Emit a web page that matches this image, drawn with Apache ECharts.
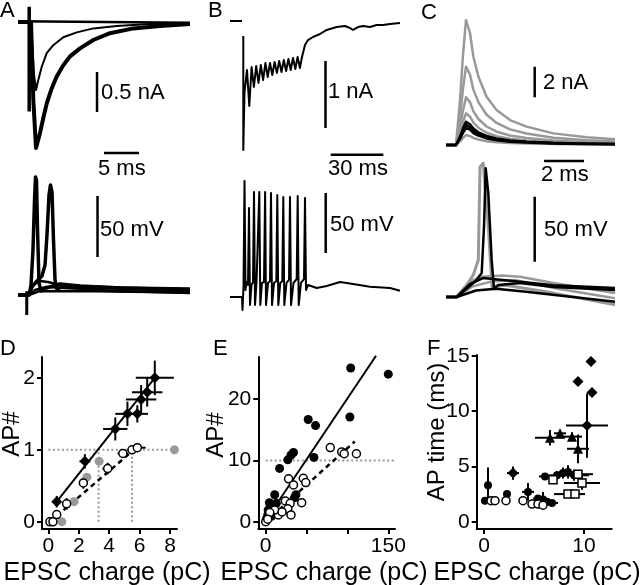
<!DOCTYPE html>
<html><head><meta charset="utf-8">
<script src="https://cdn.jsdelivr.net/npm/echarts@6/dist/echarts.min.js"></script>
<style>html,body{margin:0;padding:0;background:#fff}#c{width:640px;height:585px}</style>
</head><body><div id="c"></div>
<script>
// ---------- Panel A (time ms, current nA, voltage mV) ----------
const aCurBig = [[0,0],[1.86,0],[2.19,-0.975],[2.57,-1.575],[3.14,-1.39],[3.61,-1.2],[4.1,-1.02],[4.81,-0.83],[5.53,-0.68],[6.47,-0.54],[7.43,-0.43],[8.86,-0.33],[10.76,-0.225],[13.14,-0.14],[16.47,-0.08],[20.29,-0.05],[24.57,-0.025]];
const aCurSmall = [[0,0],[1.86,0],[2.29,-0.66],[2.57,-0.85],[2.9,-0.725],[3.39,-0.56],[4.1,-0.39],[5.04,-0.29],[6.47,-0.19],[8.39,-0.13],[10.76,-0.08],[14.1,-0.05],[18.86,-0.025],[24.57,-0.02]];
const aCurNone = [[0,0.01],[24.57,-0.01]];
const aCurArtifact = [[1.6,0.19],[1.6,-1.12]];
const aVoltSpike1 = [[0,0],[1.57,0],[1.86,8.2],[2.14,36.9],[2.36,77.9],[2.5,96.7],[2.64,94.3],[2.79,53.3],[3.0,9.8],[3.29,3.3],[4.0,5.7],[6.0,9.0],[8.86,7.4],[14.57,5.7],[24.57,4.9]];
const aVoltSpike2 = [[0,0],[1.57,0],[2.0,6.6],[2.71,11.5],[3.43,15.6],[3.86,24.6],[4.14,49.2],[4.43,82],[4.64,90.2],[4.86,84.4],[5.07,45.1],[5.29,12.3],[5.57,4.1],[6.29,7.4],[10.29,6.6],[24.57,4.1]];
const aVoltSub1 = [[0,0],[1.57,0],[2.14,8.2],[3.14,11.5],[4.29,10.7],[6.0,8.2],[11.71,5.7],[24.57,3.3]];
const aVoltSub2 = [[0,0],[1.57,0],[2.43,4.1],[4.0,6.6],[7.0,5.7],[14.0,3.3],[24.57,1.6]];
const aVoltSub3 = [[0,0],[1.57,0],[3.0,3.0],[8.0,3.3],[24.57,2.0]];
const aVoltArtifact = [[1.25,3],[1.25,-16.4]];
const aCurBarV = [[11.29,-0.625],[11.29,-1.125]];
const aCurBarH = [[12.29,-1.6375],[17.29,-1.6375]];
const aVoltBarV = [[11.36,81.1],[11.36,31.1]];

// ---------- Panel B ----------
const bCurDash = [[0,0],[6.83,0]];
const bCurTrace = [[7.57,-0.224],[7.57,-1.925],[8.26,-1.06],[9.68,-0.731],[10.99,-1.269],[12.30,-0.687],[13.61,-0.985],[14.92,-0.672],[16.23,-0.925],[17.54,-0.657],[18.85,-0.881],[20.16,-0.627],[21.47,-0.836],[22.78,-0.627],[24.09,-0.806],[25.40,-0.612],[26.71,-0.776],[28.02,-0.597],[29.33,-0.761],[30.64,-0.582],[31.95,-0.746],[33.26,-0.567],[34.57,-0.731],[35.88,-0.552],[37.19,-0.716],[38.50,-0.537],[39.81,-0.701],[41.0,-0.537],[42.71,-0.358],[44.42,-0.284],[47.27,-0.239],[51.25,-0.194],[55.07,-0.134],[60.76,-0.090],[65.49,-0.075],[68.34,-0.104],[70.05,-0.134],[72.89,-0.090],[75.74,-0.075],[79.73,-0.090],[83.54,-0.060],[87.13,-0.060],[91.12,-0.045],[96.81,-0.030]];
const bVoltTrace = [[0,0],[6.83,0],[7.12,-10.8],[7.69,8.3],[8.26,96.7],[8.83,5.8],[9.4,12.5],[10.25,10],[10.82,74.2],[11.39,-6.7],[12.24,10],[13.1,12.5],[13.67,87.5],[14.24,-6.7],[15.09,11.7],[16.06,12.5],[16.69,87.5],[17.25,-6.7],[18.22,11.7],[19.36,12.5],[20.0,87.5],[20.5,-6.7],[21.64,11.7],[22.78,13.3],[23.35,86.7],[23.92,-6.7],[25.06,11.7],[26.37,13.3],[26.94,85],[27.5,-6.7],[28.64,11.7],[29.78,13.3],[30.35,83.3],[30.92,-6.7],[32.18,11.7],[33.6,14.2],[34.17,83.3],[34.74,-6.7],[36.16,11.7],[37.98,15],[38.55,84.2],[39.12,-6.7],[40.43,11.7],[42.14,15],[42.71,82.5],[43.28,5.8],[44.42,10],[49.37,7.5],[55.07,9.2],[62.64,12.5],[70.05,10.8],[79.73,8.6],[91.12,7.5],[96.81,5.25]];
const bCurBarV = [[54.38,-0.597],[54.38,-1.597]];
const bCurBarH = [[57.35,-1.9955],[87.35,-1.9955]];
const bVoltBarV = [[54.5,86.67],[54.5,36.67]];

// ---------- Panel C ----------
const cTime = [0,0.5,0.7,0.85,1.0,1.2,1.37,1.62,2.03,2.53,3.2,4.03,5.37,7.03,8.45];
const cGray1 = [0,0,2.94,5.88,8.17,7.32,5.77,4.46,3.16,2.29,1.63,1.2,0.76,0.5,0.37];
const cGray2 = [0,0,1.84,3.69,5.12,4.59,3.62,2.8,1.98,1.44,1.02,0.75,0.48,0.31,0.23];
const cGray3 = [0,0,1.12,2.25,3.12,2.8,2.2,1.7,1.21,0.87,0.62,0.46,0.29,0.19,0.14];
const cGray4 = [0,0,0.74,1.49,2.07,1.85,1.46,1.13,0.8,0.58,0.41,0.3,0.19,0.13,0.09];
const cGray5 = [0,0,0.24,0.47,0.65,0.58,0.46,0.36,0.25,0.18,0.13,0.1,0.06,0.04,0.03];
const cBlack1 = [0,0,0.55,1.09,1.52,1.36,1.07,0.83,0.59,0.43,0.3,0.22,0.14,0.09,0.07];
const cBlack2 = [0,0,0.47,0.94,1.31,1.17,0.92,0.71,0.5,0.37,0.26,0.19,0.12,0.08,0.06];
const cBlack3 = [0,0,0.4,0.8,1.11,1.0,0.78,0.61,0.43,0.31,0.22,0.16,0.1,0.07,0.05];
const cVoltGraySpike = [[0,0],[0.535,0],[1.035,9.2],[1.365,17],[1.615,28.5],[1.7,100],[1.86,103],[2.115,54.1],[2.3,7.9],[3.0,9],[5.37,3],[8.45,-6]];
const cVoltGraySub1 = [[0,0],[0.535,0],[1.2,12],[1.8,15.5],[2.8,16.5],[3.7,15.5],[5.37,10.8],[8.45,3]];
const cVoltGraySub2 = [[0,0],[0.535,0],[1.3,8],[2.3,12],[3.5,13],[5.37,7],[8.45,-1]];
const cVoltBlackSpike = [[0,0],[0.535,0],[1.035,6.4],[1.45,11.8],[1.785,18.5],[1.9,54.1],[1.985,99],[2.115,79.9],[2.285,28.2],[2.4,6.4],[2.615,9.2],[3.7,10.8],[5.37,7.7],[8.45,5.4]];
const cVoltBlackSub1 = [[0,0],[0.535,0],[1.2,10],[1.85,14.6],[3.7,11.8],[5.37,9],[8.45,6.9]];
const cVoltBlackSub2 = [[0,0],[0.535,0],[1.5,5],[2.5,6.4],[4,4],[8.45,-3.6]];
const cCurBarV = [[4.435,5.12],[4.435,3.12]];
const cCurBarH = [[4.9,-1.046],[6.9,-1.046]];
const cVoltBarV = [[4.435,77.15],[4.435,27.15]];

// ---------- Panel D (x, y, xErr, yErr) ----------
const dFilled = [[0.55,0.28,0.2,0.08],[2.4,0.84,0.35,0.1],[4.4,1.29,0.8,0.16],[5.2,1.5,0.8,0.17],[5.85,1.5,0.7,0.12],[6.1,1.7,1.0,0.2],[6.5,1.8,1.0,0.2],[7.0,2.0,1.25,0.24]];
const dOpen = [[0.1,0,0,0],[0.3,0,0,0],[0.55,0.1,0.1,0.05],[1.2,0.25,0.3,0.08],[2.3,0.54,0.2,0.08],[3.9,0.74,0.35,0.08],[4.9,0.95,0.35,0.05],[5.5,1.0,0.3,0.05],[5.85,1.03,0.55,0.05]];
const dGray = [[0.88,0],[1.69,0.28],[2.53,0.62],[3.34,0.84],[8.29,1.0]];
const dFitSolid = [[0.55,0.28],[7.0,2.0]];
const dFitDashed = [[0.1,0],[5.9,1.05]];
const dRefH = [[0,1],[8.3,1]];
const dRefV1 = [[3.3,0],[3.3,1]];
const dRefV2 = [[5.5,0],[5.5,1]];
const dXTicks = [0,2,4,6,8];
const dYTicks = [0,1,2];

// ---------- Panel E ----------
const eFilled = [[104,25.1],[150,24.1],[52,16.7],[61,15.7],[103,17.1],[34,11.3],[31,10.9],[27,10.1],[59,10.5],[17,8.7],[37,4.4],[35,3.9],[11,4.4],[4.5,3.1],[9,2.7],[13,3.0],[3,1.9],[6.5,1.5],[2.5,1.1],[7,0.9],[1,0.5],[15,1.5]];
const eOpen = [[79,12.1],[93,11.4],[96,11.1],[111,11.1],[28,7.0],[46,7.1],[34,6.0],[49,6.4],[24,3.4],[30,3.0],[44,3.1],[27,2.1],[31,1.1],[15.5,1.1],[11,1.9],[5,1.5],[0,0],[2.5,0.4],[20,1.6]];
const eFitSolid = [[3,0.8],[135,27.1]];
const eFitDashed = [[0,0],[109,13.1]];
const eRefH = [[0,10],[158,10]];
const eXTicks = [0,50,100,150];
const eXLabels = [0,150];
const eYTicks = [0,10,20];

// ---------- Panel F (x, y, xErr, yErr) ----------
const fDiamond = [[10.7,14.5,0,0],[9.4,12.7,0,0],[10.8,11.7,0,0],[10.3,8.7,2.1,2.9],[2.9,4.4,0.6,0.6]];
const fTriangle = [[6.6,7.6,1.5,0.7],[7.6,8.0,0.6,0.3],[8.8,7.7,1.0,0.4],[9.4,6.6,1.1,1.3]];
const fFilled = [[0.4,3.3,0,1.6],[0.1,1.9,0,0],[2.3,2.5,0.3,0.2],[4.4,2.7,0.6,0.8],[5.4,2.1,0.5,0.3],[5.9,2.0,0.6,0.7],[6.3,1.8,0.5,0.2],[6.8,1.7,0.6,0.2],[6.1,4.1,0.6,0.3],[7.3,4.2,0.8,0.4],[7.9,4.4,0.8,0.5],[8.4,4.5,0.9,0.6],[9.0,4.2,1.5,0.5]];
const fOpen = [[0.7,1.9],[1.1,1.9],[2.2,1.9],[3.9,1.9],[4.8,1.6],[5.4,1.6],[5.9,1.5]];
const fOpenSq = [[6.9,3.8,0,0],[9.4,4.3,1.5,0.3],[9.8,3.5,1.8,0.6],[8.4,2.5,1.4,0.3],[9.1,2.5,1.0,0.3]];
const fXTicks = [0,10];
const fYTicks = [0,5,10,15];

// ---------- build ----------
const FONT = '"Liberation Sans", Arial, Helvetica, sans-serif';
const GRAY = '#999';
const gridBoxes = [
  {left:18, top:2, width:172, height:158},
  {left:18, top:165, width:172, height:155},
  {left:230, top:2, width:172, height:158},
  {left:230, top:165, width:172, height:155},
  {left:446, top:2, width:170, height:163},
  {left:446, top:160, width:170, height:160},
  {left:42, top:357, width:135, height:172},
  {left:258.3, top:357, width:136.7, height:172},
  {left:476.7, top:355, width:135, height:174}
];
const ranges = [
  [0,24.57,-1.725,0.25],[0,24.57,-20.49,106.56],
  [0,97.95,-2.0746,0.2836],[0,97.95,-19.17,110],
  [0,8.5,-1.307,9.346],[0,8.5,-17.69,105.38],
  [-0.42,8.46,-0.10,2.29],[-9.05,158.2,-1.19,26.9],[-0.73,12.77,-0.66,15.09]
];
const grid = gridBoxes.map(g => Object.assign({outerBoundsMode:'none', containLabel:false}, g));
const xAxis = [], yAxis = [];
ranges.forEach((r,i) => {
  xAxis.push({type:'value', gridIndex:i, min:r[0], max:r[1], show:false});
  yAxis.push({type:'value', gridIndex:i, min:r[2], max:r[3], show:false});
});
function realAxis(ax, ticks, labels){
  Object.assign(ax, {show:true,
    axisLine:{show:true, onZero:false, lineStyle:{color:'#000', width:2}},
    axisTick:{show:true, length:5, lineStyle:{color:'#000', width:2}, customValues:ticks},
    axisLabel:{show:true, customValues:labels, color:'#000', fontSize:21, fontFamily:FONT, margin:7},
    splitLine:{show:false}});
}
realAxis(xAxis[6], dXTicks, dXTicks); realAxis(yAxis[6], dYTicks, dYTicks);
realAxis(xAxis[7], eXTicks, eXLabels); realAxis(yAxis[7], eYTicks, eYTicks);
realAxis(xAxis[8], fXTicks, fXTicks); realAxis(yAxis[8], fYTicks, fYTicks);

const series = [];
function line(gi, data, color, width, type){
  series.push({type:'line', xAxisIndex:gi, yAxisIndex:gi, data:data, showSymbol:false, symbol:'none',
    lineStyle:{color:color, width:width, type:type||'solid', cap:'butt', join:'round'}, clip:false, silent:true, animation:false, z:2});
}
function zipT(vals){ return cTime.map((t,k)=>[t, vals[k]]); }
function errBars(gi, data, color){
  series.push({type:'custom', xAxisIndex:gi, yAxisIndex:gi, data:data, silent:true, z:3, animation:false,
    encode:{x:0, y:1},
    renderItem:function(params, api){
      const x=api.value(0), y=api.value(1), ex=api.value(2), ey=api.value(3);
      const ch=[];
      if(ex>0){const a=api.coord([x-ex,y]), b=api.coord([x+ex,y]);
        ch.push({type:'line', shape:{x1:a[0],y1:a[1],x2:b[0],y2:b[1]}, style:{stroke:color, lineWidth:2}});}
      if(ey>0){const a=api.coord([x,y-ey]), b=api.coord([x,y+ey]);
        ch.push({type:'line', shape:{x1:a[0],y1:a[1],x2:b[0],y2:b[1]}, style:{stroke:color, lineWidth:2}});}
      return {type:'group', children:ch};
    }});
}
function scatter(gi, data, symbol, size, fill, border){
  series.push({type:'scatter', xAxisIndex:gi, yAxisIndex:gi, data:data, symbol:symbol, symbolSize:size, silent:true, animation:false, z:4,
    itemStyle:{color:fill, borderColor:border||fill, borderWidth:border?1.5:0, opacity:1}});
}

// A
line(0, aCurNone, '#000', 2.5);
line(0, aCurSmall, '#000', 2);
line(0, aCurBig, '#000', 4);
line(0, aCurArtifact, '#000', 3.5);
line(0, aCurBarV, '#000', 2.5);
line(0, aCurBarH, '#000', 2.5);
line(1, aVoltSub3, '#000', 2.5);
line(1, aVoltSub2, '#000', 2.5);
line(1, aVoltSub1, '#000', 2.5);
line(1, aVoltSpike1, '#000', 3.5);
line(1, aVoltSpike2, '#000', 3.5);
line(1, aVoltArtifact, '#000', 3);
line(1, aVoltBarV, '#000', 2.5);
// B
line(2, bCurDash, '#000', 2);
line(2, bCurTrace, '#000', 2);
line(2, bCurBarV, '#000', 2.5);
line(2, bCurBarH, '#000', 2.5);
line(3, bVoltTrace, '#000', 2);
line(3, bVoltBarV, '#000', 2.5);
// C
[cGray1,cGray2,cGray3,cGray4,cGray5].forEach(v => line(4, zipT(v), GRAY, 2.5));
[cBlack1,cBlack2,cBlack3].forEach(v => line(4, zipT(v), '#000', 2.5));
line(4, cCurBarV, '#000', 2.5);
line(4, cCurBarH, '#000', 2.5);
line(5, cVoltGraySub2, GRAY, 2.5);
line(5, cVoltGraySub1, GRAY, 2.5);
line(5, cVoltGraySpike, GRAY, 3);
line(5, cVoltBlackSub2, '#000', 2.5);
line(5, cVoltBlackSub1, '#000', 2.5);
line(5, cVoltBlackSpike, '#000', 2.5);
line(5, cVoltBarV, '#000', 2.5);
// D
line(6, dRefH, GRAY, 2, [2,2.5]);
line(6, dRefV1, GRAY, 2, [2,2.5]);
line(6, dRefV2, GRAY, 2, [2,2.5]);
line(6, dFitSolid, '#000', 2);
line(6, dFitDashed, '#000', 2.5, [5,4]);
errBars(6, dFilled, '#000');
errBars(6, dOpen, '#000');
scatter(6, dGray, 'circle', 9, GRAY);
scatter(6, dFilled, 'diamond', 11, '#000');
scatter(6, dOpen, 'circle', 8, '#fff', '#000');
// E
line(7, eRefH, GRAY, 2, [2,2.5]);
line(7, eFitSolid, '#000', 2);
line(7, eFitDashed, '#000', 2.5, [5,4]);
scatter(7, eFilled, 'circle', 9, '#000');
scatter(7, eOpen, 'circle', 8, '#fff', '#000');
// F
errBars(8, fDiamond, '#000');
errBars(8, fTriangle, '#000');
errBars(8, fFilled, '#000');
errBars(8, fOpenSq, '#000');
scatter(8, fFilled, 'circle', 8, '#000');
scatter(8, fTriangle, 'triangle', 10, '#000');
scatter(8, fDiamond, 'diamond', 11, '#000');
scatter(8, fOpen, 'circle', 8, '#fff', '#000');
scatter(8, fOpenSq, 'rect', 8, '#fff', '#000');

function txt(s, x, y, size, align, rot){
  const o = {type:'text', x:x, y:y, silent:true, z:10,
    style:{text:s, fill:'#000', font:size+'px '+FONT, fontSize:size, fontFamily:FONT,
      align:align||'left', verticalAlign:'middle', textAlign:align||'left', textVerticalAlign:'middle'}};
  if(rot) o.rotation = rot;
  return o;
}
const graphic = [
  txt('A', 0, 11, 22), txt('B', 208, 11, 22), txt('C', 421, 13, 22),
  txt('D', 0, 349, 22), txt('E', 213, 349, 22), txt('F', 427, 349, 22),
  txt('0.5 nA', 101, 92.5, 22), txt('5 ms', 98, 169, 22), txt('50 mV', 100, 229.5, 22),
  txt('1 nA', 328, 92, 22), txt('30 ms', 328, 169, 22), txt('50 mV', 330, 225, 22),
  txt('2 nA', 543, 83, 22), txt('2 ms', 541, 175, 22), txt('50 mV', 544, 230, 22),
  txt('AP#', 12, 434, 24, 'center', Math.PI/2),
  txt('AP#', 216, 435, 24, 'center', Math.PI/2),
  txt('AP time (ms)', 437, 432, 24, 'center', Math.PI/2),
  txt('EPSC charge (pC)', 107, 573, 25, 'center'),
  txt('EPSC charge (pC)', 324, 573, 25, 'center'),
  txt('EPSC charge (pC)', 537, 573, 25, 'center')
];

const chart = echarts.init(document.getElementById('c'), null, {renderer:'canvas'});
chart.setOption({animation:false, backgroundColor:'#fff', grid:grid, xAxis:xAxis, yAxis:yAxis, series:series, graphic:graphic});
</script></body></html>
